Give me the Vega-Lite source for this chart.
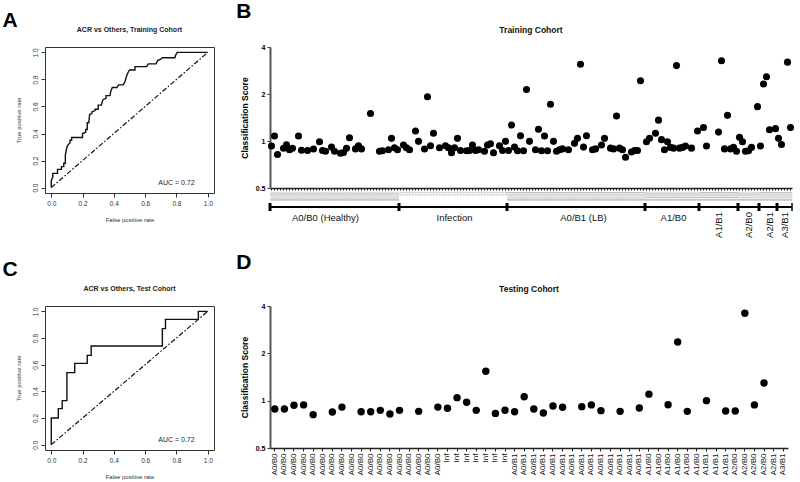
{
"$schema": "https://vega.github.io/schema/vega-lite/v6.json",
"background": "white",
"padding": {"left": 2, "top": 0, "right": 2, "bottom": 0},
"config": {"font": "Liberation Sans", "view": {"stroke": null}, "axis": {"grid": false}},
"datasets": {
"rocA": [{"k":0,"fpr":0,"tpr":0},{"k":1,"fpr":0,"tpr":0.05},{"k":2,"fpr":0.01,"tpr":0.08},{"k":3,"fpr":0.01,"tpr":0.105},{"k":4,"fpr":0.04,"tpr":0.105},{"k":5,"fpr":0.04,"tpr":0.135},{"k":6,"fpr":0.065,"tpr":0.135},{"k":7,"fpr":0.065,"tpr":0.155},{"k":8,"fpr":0.08,"tpr":0.155},{"k":9,"fpr":0.08,"tpr":0.18},{"k":10,"fpr":0.09,"tpr":0.18},{"k":11,"fpr":0.09,"tpr":0.24},{"k":12,"fpr":0.1,"tpr":0.3},{"k":13,"fpr":0.11,"tpr":0.32},{"k":14,"fpr":0.12,"tpr":0.33},{"k":15,"fpr":0.12,"tpr":0.35},{"k":16,"fpr":0.13,"tpr":0.35},{"k":17,"fpr":0.13,"tpr":0.37},{"k":18,"fpr":0.2,"tpr":0.37},{"k":19,"fpr":0.2,"tpr":0.4},{"k":20,"fpr":0.22,"tpr":0.41},{"k":21,"fpr":0.22,"tpr":0.43},{"k":22,"fpr":0.23,"tpr":0.43},{"k":23,"fpr":0.23,"tpr":0.48},{"k":24,"fpr":0.24,"tpr":0.48},{"k":25,"fpr":0.245,"tpr":0.54},{"k":26,"fpr":0.26,"tpr":0.55},{"k":27,"fpr":0.26,"tpr":0.56},{"k":28,"fpr":0.28,"tpr":0.57},{"k":29,"fpr":0.28,"tpr":0.58},{"k":30,"fpr":0.3,"tpr":0.58},{"k":31,"fpr":0.3,"tpr":0.61},{"k":32,"fpr":0.32,"tpr":0.61},{"k":33,"fpr":0.33,"tpr":0.65},{"k":34,"fpr":0.35,"tpr":0.66},{"k":35,"fpr":0.35,"tpr":0.68},{"k":36,"fpr":0.375,"tpr":0.68},{"k":37,"fpr":0.38,"tpr":0.71},{"k":38,"fpr":0.39,"tpr":0.74},{"k":39,"fpr":0.42,"tpr":0.74},{"k":40,"fpr":0.43,"tpr":0.76},{"k":41,"fpr":0.46,"tpr":0.76},{"k":42,"fpr":0.47,"tpr":0.78},{"k":43,"fpr":0.48,"tpr":0.82},{"k":44,"fpr":0.49,"tpr":0.85},{"k":45,"fpr":0.5,"tpr":0.87},{"k":46,"fpr":0.535,"tpr":0.87},{"k":47,"fpr":0.535,"tpr":0.895},{"k":48,"fpr":0.61,"tpr":0.895},{"k":49,"fpr":0.62,"tpr":0.915},{"k":50,"fpr":0.67,"tpr":0.915},{"k":51,"fpr":0.68,"tpr":0.94},{"k":52,"fpr":0.7,"tpr":0.95},{"k":53,"fpr":0.71,"tpr":0.96},{"k":54,"fpr":0.79,"tpr":0.96},{"k":55,"fpr":0.795,"tpr":0.98},{"k":56,"fpr":0.805,"tpr":1.0},{"k":57,"fpr":1,"tpr":1}],
"rocC": [{"k":0,"fpr":0,"tpr":0},{"k":1,"fpr":0,"tpr":0.2},{"k":2,"fpr":0.045,"tpr":0.2},{"k":3,"fpr":0.045,"tpr":0.27},{"k":4,"fpr":0.07,"tpr":0.27},{"k":5,"fpr":0.07,"tpr":0.33},{"k":6,"fpr":0.1,"tpr":0.33},{"k":7,"fpr":0.1,"tpr":0.54},{"k":8,"fpr":0.15,"tpr":0.54},{"k":9,"fpr":0.15,"tpr":0.61},{"k":10,"fpr":0.23,"tpr":0.61},{"k":11,"fpr":0.23,"tpr":0.67},{"k":12,"fpr":0.255,"tpr":0.67},{"k":13,"fpr":0.255,"tpr":0.74},{"k":14,"fpr":0.71,"tpr":0.74},{"k":15,"fpr":0.71,"tpr":0.87},{"k":16,"fpr":0.73,"tpr":0.87},{"k":17,"fpr":0.73,"tpr":0.94},{"k":18,"fpr":0.94,"tpr":0.94},{"k":19,"fpr":0.94,"tpr":1.0},{"k":20,"fpr":1,"tpr":1}],
"diag": [{"fpr":0,"tpr":0},{"fpr":1,"tpr":1}],
"trainB": [
{"c":"000 A0/B0","s":0.93},{"c":"001 A0/B0","s":1.077},{"c":"002 A0/B0","s":0.82},{"c":"003 A0/B0"},{"c":"004 A0/B0","s":0.898},{"c":"005 A0/B0","s":0.945},{"c":"006 A0/B0","s":0.88},{"c":"007 A0/B0","s":0.898},{"c":"008 A0/B0"},{"c":"009 A0/B0","s":1.077},
{"c":"010 A0/B0","s":0.873},{"c":"011 A0/B0"},{"c":"012 A0/B0","s":0.87},{"c":"013 A0/B0"},{"c":"014 A0/B0","s":0.888},{"c":"015 A0/B0"},{"c":"016 A0/B0","s":0.99},{"c":"017 A0/B0","s":0.87},{"c":"018 A0/B0","s":0.86},{"c":"019 A0/B0"},
{"c":"020 A0/B0","s":0.914},{"c":"021 A0/B0","s":0.86},{"c":"022 A0/B0"},{"c":"023 A0/B0","s":0.835},{"c":"024 A0/B0","s":0.845},{"c":"025 A0/B0","s":0.898},{"c":"026 A0/B0","s":1.05},{"c":"027 A0/B0"},{"c":"028 A0/B0","s":0.89},{"c":"029 A0/B0","s":0.933},
{"c":"030 A0/B0","s":0.89},{"c":"031 A0/B0"},{"c":"032 A0/B0"},{"c":"033 A0/B0","s":1.5},{"c":"034 A0/B0"},{"c":"035 A0/B0"},{"c":"036 A0/B0","s":0.86},{"c":"037 A0/B0","s":0.865},{"c":"038 A0/B0"},{"c":"039 A0/B0","s":0.88},
{"c":"040 A0/B0","s":1.04},{"c":"041 A0/B0","s":0.905},{"c":"042 A0/B0","s":0.88},{"c":"043 Inf"},{"c":"044 Inf","s":0.943},{"c":"045 Inf","s":0.905},{"c":"046 Inf","s":0.88},{"c":"047 Inf"},{"c":"048 Inf","s":1.159},{"c":"049 Inf","s":0.995},
{"c":"050 Inf"},{"c":"051 Inf","s":0.888},{"c":"052 Inf","s":1.92},{"c":"053 Inf","s":0.933},{"c":"054 Inf","s":1.12},{"c":"055 Inf"},{"c":"056 Inf","s":0.905},{"c":"057 Inf"},{"c":"058 Inf","s":0.933},{"c":"059 Inf","s":0.905},
{"c":"060 Inf","s":0.84},{"c":"061 Inf","s":0.905},{"c":"062 Inf","s":1.04},{"c":"063 Inf","s":0.87},{"c":"064 Inf"},{"c":"065 Inf","s":0.865},{"c":"066 Inf","s":0.87},{"c":"067 Inf","s":0.943},{"c":"068 Inf","s":0.87},{"c":"069 Inf","s":0.88},
{"c":"070 Inf"},{"c":"071 Inf","s":0.86},{"c":"072 Inf","s":0.943},{"c":"073 Inf","s":0.96},{"c":"074 Inf","s":0.84},{"c":"075 Inf"},{"c":"076 Inf","s":0.933},{"c":"077 Inf","s":0.87},{"c":"078 Inf","s":0.995},{"c":"079 A0/B1","s":0.87},
{"c":"080 A0/B1","s":1.266},{"c":"081 A0/B1","s":0.914},{"c":"082 A0/B1","s":0.865},{"c":"083 A0/B1","s":1.08},{"c":"084 A0/B1","s":0.865},{"c":"085 A0/B1","s":2.14},{"c":"086 A0/B1","s":0.995},{"c":"087 A0/B1"},{"c":"088 A0/B1","s":0.88},{"c":"089 A0/B1","s":1.188},
{"c":"090 A0/B1","s":0.865},{"c":"091 A0/B1","s":1.076},{"c":"092 A0/B1","s":0.865},{"c":"093 A0/B1","s":1.72},{"c":"094 A0/B1","s":0.995},{"c":"095 A0/B1","s":0.86},{"c":"096 A0/B1","s":0.88},{"c":"097 A0/B1","s":0.89},{"c":"098 A0/B1"},{"c":"099 A0/B1","s":0.88},
{"c":"100 A0/B1"},{"c":"101 A0/B1","s":0.966},{"c":"102 A0/B1","s":1.04},{"c":"103 A0/B1","s":3.1},{"c":"104 A0/B1","s":0.914},{"c":"105 A0/B1","s":1.08},{"c":"106 A0/B1"},{"c":"107 A0/B1","s":0.88},{"c":"108 A0/B1","s":0.89},{"c":"109 A0/B1"},
{"c":"110 A0/B1","s":0.943},{"c":"111 A0/B1","s":1.04},{"c":"112 A0/B1"},{"c":"113 A0/B1","s":0.9},{"c":"114 A0/B1","s":0.89},{"c":"115 A0/B1","s":1.445},{"c":"116 A0/B1","s":0.9},{"c":"117 A0/B1","s":0.88},{"c":"118 A0/B1","s":0.786},{"c":"119 A0/B1"},
{"c":"120 A0/B1","s":0.85},{"c":"121 A0/B1","s":0.87},{"c":"122 A0/B1","s":0.87},{"c":"123 A0/B1","s":2.43},{"c":"124 A0/B1"},{"c":"125 A1/B0","s":0.99},{"c":"126 A1/B0","s":1.04},{"c":"127 A1/B0"},{"c":"128 A1/B0","s":1.12},{"c":"129 A1/B0","s":1.36},
{"c":"130 A1/B0","s":1.02},{"c":"131 A1/B0","s":0.88},{"c":"132 A1/B0","s":0.99},{"c":"133 A1/B0","s":0.91},{"c":"134 A1/B0","s":0.9},{"c":"135 A1/B0","s":3.04},{"c":"136 A1/B0","s":0.9},{"c":"137 A1/B0","s":0.91},{"c":"138 A1/B0","s":0.93},{"c":"139 A1/B0"},
{"c":"140 A1/B0","s":0.9},{"c":"141 A1/B0"},{"c":"142 A1/B0","s":1.16},{"c":"143 A1/B1"},{"c":"144 A1/B1","s":1.22},{"c":"145 A1/B1","s":0.93},{"c":"146 A1/B1"},{"c":"147 A1/B1"},{"c":"148 A1/B1"},{"c":"149 A1/B1","s":1.14},
{"c":"150 A1/B1","s":3.27},{"c":"151 A1/B1","s":0.89},{"c":"152 A1/B1","s":1.46},{"c":"153 A1/B1","s":0.89},{"c":"154 A1/B1","s":0.91},{"c":"155 A1/B1","s":0.86},{"c":"156 A2/B0","s":1.055},{"c":"157 A2/B0","s":0.99},{"c":"158 A2/B0","s":0.86},{"c":"159 A2/B0","s":0.865},
{"c":"160 A2/B0","s":0.91},{"c":"161 A2/B0"},{"c":"162 A2/B0","s":1.66},{"c":"163 A2/B1","s":0.93},{"c":"164 A2/B1","s":2.32},{"c":"165 A2/B1","s":2.58},{"c":"166 A2/B1","s":1.18},{"c":"167 A2/B1"},{"c":"168 A2/B1","s":1.2},{"c":"169 A3/B1","s":1.04},
{"c":"170 A3/B1","s":0.95},{"c":"171 A3/B1"},{"c":"172 A3/B1","s":3.2},{"c":"173 A3/B1","s":1.22}
],
"groupsB": [
{"g":"A0/B0 (Healthy)","first":"000 A0/B0","mid":"018 A0/B0","rot":0},
{"g":"Infection","first":"043 Inf","mid":"061 Inf","rot":0},
{"g":"A0/B1 (LB)","first":"079 A0/B1","mid":"104 A0/B1","rot":0},
{"g":"A1/B0","first":"125 A1/B0","mid":"134 A1/B0","rot":0},
{"g":"A1/B1","first":"143 A1/B1","mid":"149 A1/B1","rot":1},
{"g":"A2/B0","first":"156 A2/B0","mid":"159 A2/B0","rot":1},
{"g":"A2/B1","first":"163 A2/B1","mid":"166 A2/B1","rot":1},
{"g":"A3/B1","first":"169 A3/B1","mid":"171 A3/B1","rot":1}
],
"testD": [
{"c":"00 A0/B0","s":0.885},{"c":"01 A0/B0","s":0.885},{"c":"02 A0/B0","s":0.934},{"c":"03 A0/B0","s":0.94},{"c":"04 A0/B0","s":0.815},{"c":"05 A0/B0"},{"c":"06 A0/B0","s":0.847},{"c":"07 A0/B0","s":0.91},{"c":"08 A0/B0"},{"c":"09 A0/B0","s":0.85},
{"c":"10 A0/B0","s":0.85},{"c":"11 A0/B0","s":0.868},{"c":"12 A0/B0","s":0.823},{"c":"13 A0/B0","s":0.868},{"c":"14 A0/B0"},{"c":"15 A0/B0","s":0.855},{"c":"16 A0/B0"},{"c":"17 A0/B0","s":0.91},{"c":"18 Inf","s":0.894},{"c":"19 Inf","s":1.045},
{"c":"20 Inf","s":0.976},{"c":"21 Inf","s":0.868},{"c":"22 Inf","s":1.54},{"c":"23 Inf","s":0.83},{"c":"24 Inf","s":0.87},{"c":"25 A0/B1","s":0.85},{"c":"26 A0/B1","s":1.06},{"c":"27 A0/B1","s":0.885},{"c":"28 A0/B1","s":0.835},{"c":"29 A0/B1","s":0.925},
{"c":"30 A0/B1","s":0.907},{"c":"31 A0/B1"},{"c":"32 A0/B1","s":0.916},{"c":"33 A0/B1","s":0.94},{"c":"34 A0/B1","s":0.864},{"c":"35 A0/B1"},{"c":"36 A0/B1","s":0.855},{"c":"37 A0/B1"},{"c":"38 A0/B1","s":0.898},{"c":"39 A1/B0","s":1.1},
{"c":"40 A1/B0"},{"c":"41 A1/B0","s":0.943},{"c":"42 A1/B0","s":2.36},{"c":"43 A1/B0","s":0.855},{"c":"44 A1/B0"},{"c":"45 A1/B1","s":1.0},{"c":"46 A1/B1"},{"c":"47 A1/B1","s":0.86},{"c":"48 A2/B0","s":0.86},{"c":"49 A2/B0","s":3.6},
{"c":"50 A2/B0","s":0.94},{"c":"51 A2/B0","s":1.295},{"c":"52 A2/B1"},{"c":"53 A3/B1"}
]
},
"spacing": 13,
"vconcat": [
{"spacing": 21, "hconcat": [
 {"title": {"text": "A", "fontSize": 21, "fontWeight": "bold", "anchor": "start", "offset": -5, "dx": -12, "color": "#000"},
  "vconcat": [{
   "width": 169, "height": 146,
   "view": {"stroke": "#333", "strokeWidth": 1},
   "title": {"text": "ACR vs Others, Training Cohort", "fontSize": 7, "fontWeight": "bold", "offset": 14, "color": "#222"},
   "encoding": {
      "x": {"field": "fpr", "type": "quantitative", "scale": {"domain": [-0.04, 1.04], "nice": false, "zero": false},
            "axis": {"title": "False positive rate", "values": [0, 0.2, 0.4, 0.6, 0.8, 1], "labelOverlap": false, "format": ".1f", "domain": false, "tickSize": 4, "tickColor": "#333", "labelFontSize": 6.5, "labelColor": "#333", "labelPadding": 3, "titleFontSize": 6, "titleFontWeight": "normal", "titleColor": "#333", "titlePadding": 10}},
      "y": {"field": "tpr", "type": "quantitative", "scale": {"domain": [-0.04, 1.04], "nice": false, "zero": false},
            "axis": {"title": "True positive rate", "values": [0, 0.2, 0.4, 0.6, 0.8, 1], "labelOverlap": false, "format": ".1f", "domain": false, "tickSize": 4, "tickColor": "#333", "labelAngle": 270, "labelAlign": "center", "labelBaseline": "bottom", "labelFontSize": 6.5, "labelColor": "#333", "labelPadding": 3, "titleFontSize": 6, "titleFontWeight": "normal", "titleColor": "#333", "titlePadding": 11}}},
   "layer": [
    {"data": {"name": "rocA"}, "mark": {"type": "line", "color": "#111", "strokeWidth": 1.4},
     "encoding": {"order": {"field": "k"}}},
    {"data": {"name": "diag"}, "mark": {"type": "line", "color": "#111", "strokeWidth": 1.2, "strokeDash": [5, 2, 1.5, 2]},
     "encoding": {}},
    {"data": {"values": [{"fpr": 0.8, "tpr": 0.035, "t": "AUC  = 0.72"}]}, "mark": {"type": "text", "fontSize": 7, "color": "#222"},
     "encoding": {"text": {"field": "t"}}}
   ]
  }]
 },
 {"title": {"text": "B", "fontSize": 21, "fontWeight": "bold", "anchor": "start", "offset": 4, "dx": -4, "color": "#000"},
  "spacing": 0,
  "resolve": {"scale": {"x": "shared"}},
  "vconcat": [
   {"width": 522, "height": 141,
    "title": {"text": "Training Cohort", "fontSize": 8.5, "fontWeight": "bold", "offset": 9, "color": "#111"},
    "data": {"name": "trainB"},
    "layer": [
     {"mark": {"type": "point", "opacity": 0},
      "encoding": {"x": {"field": "c", "type": "nominal", "scale": {"type": "band", "paddingInner": 0, "paddingOuter": 0},
        "axis": {"title": null, "labelExpr": "slice(datum.label, 4)", "labelAngle": 270, "labelAlign": "right", "labelBaseline": "middle", "labelFontSize": 3.5, "labelColor": "#999", "labelPadding": 1, "tickSize": 2, "tickColor": "#222", "domainColor": "#222", "domainWidth": 1.5}}}},
     {"transform": [{"filter": "isValid(datum.s)"}], "mark": {"type": "circle", "size": 50, "color": "#000", "opacity": 1},
      "encoding": {"x": {"field": "c", "type": "nominal"},
       "y": {"field": "s", "type": "quantitative", "scale": {"type": "log", "domain": [0.5, 4], "nice": false},
        "axis": {"title": "Classification Score", "values": [0.5, 1, 2, 4], "format": "~g", "labelFontSize": 7, "labelFontWeight": "bold", "titleFontSize": 8.5, "titleFontWeight": "bold", "domainColor": "#555", "domainWidth": 2, "tickSize": 3, "tickColor": "#333", "titlePadding": 6}}}}
    ]},
   {"width": 522, "height": 20,
    "data": {"name": "groupsB"},
    "layer": [
     {"mark": {"type": "rule", "color": "#000", "strokeWidth": 1.5},
      "encoding": {"y": {"datum": 17, "type": "quantitative", "scale": {"domain": [0, 20], "nice": false}, "axis": null}}},
     {"mark": {"type": "rule", "color": "#000", "strokeWidth": 3},
      "encoding": {"x": {"field": "first", "type": "nominal", "bandPosition": 0, "scale": {"type": "band", "paddingInner": 0, "paddingOuter": 0}, "axis": null},
       "y": {"datum": 21, "type": "quantitative"}, "y2": {"datum": 13}}},
     {"data": {"values": [{"first": "173 A3/B1"}]}, "mark": {"type": "rule", "color": "#000", "strokeWidth": 1.5},
      "encoding": {"x": {"field": "first", "type": "nominal", "bandPosition": 1}, "y": {"datum": 21, "type": "quantitative"}, "y2": {"datum": 13}}},
     {"transform": [{"filter": "datum.rot == 0"}], "mark": {"type": "text", "fontSize": 9.5, "baseline": "middle", "color": "#111"},
      "encoding": {"x": {"field": "mid", "type": "nominal"}, "y": {"datum": 6, "type": "quantitative"}, "text": {"field": "g"}}},
     {"transform": [{"filter": "datum.rot == 1"}], "mark": {"type": "text", "fontSize": 9.5, "angle": 270, "align": "right", "baseline": "middle", "color": "#111"},
      "encoding": {"x": {"field": "mid", "type": "nominal"}, "y": {"datum": 12, "type": "quantitative"}, "text": {"field": "g"}}}
    ]}
  ]
 }
]},
{"spacing": 21, "hconcat": [
 {"title": {"text": "C", "fontSize": 21, "fontWeight": "bold", "anchor": "start", "offset": 5, "dx": -12, "color": "#000"},
  "vconcat": [{
   "width": 169, "height": 144,
   "view": {"stroke": "#333", "strokeWidth": 1},
   "title": {"text": "ACR vs Others, Test Cohort", "fontSize": 7, "fontWeight": "bold", "offset": 14, "color": "#222"},
   "encoding": {
      "x": {"field": "fpr", "type": "quantitative", "scale": {"domain": [-0.04, 1.04], "nice": false, "zero": false},
            "axis": {"title": "False positive rate", "values": [0, 0.2, 0.4, 0.6, 0.8, 1], "labelOverlap": false, "format": ".1f", "domain": false, "tickSize": 4, "tickColor": "#333", "labelFontSize": 6.5, "labelColor": "#333", "labelPadding": 3, "titleFontSize": 6, "titleFontWeight": "normal", "titleColor": "#333", "titlePadding": 10}},
      "y": {"field": "tpr", "type": "quantitative", "scale": {"domain": [-0.04, 1.04], "nice": false, "zero": false},
            "axis": {"title": "True positive rate", "values": [0, 0.2, 0.4, 0.6, 0.8, 1], "labelOverlap": false, "format": ".1f", "domain": false, "tickSize": 4, "tickColor": "#333", "labelAngle": 270, "labelAlign": "center", "labelBaseline": "bottom", "labelFontSize": 6.5, "labelColor": "#333", "labelPadding": 3, "titleFontSize": 6, "titleFontWeight": "normal", "titleColor": "#333", "titlePadding": 11}}},
   "layer": [
    {"data": {"name": "rocC"}, "mark": {"type": "line", "color": "#111", "strokeWidth": 1.4},
     "encoding": {"order": {"field": "k"}}},
    {"data": {"name": "diag"}, "mark": {"type": "line", "color": "#111", "strokeWidth": 1.2, "strokeDash": [5, 2, 1.5, 2]},
     "encoding": {}},
    {"data": {"values": [{"fpr": 0.8, "tpr": 0.035, "t": "AUC  = 0.72"}]}, "mark": {"type": "text", "fontSize": 7, "color": "#222"},
     "encoding": {"text": {"field": "t"}}}
   ]
  }]
 },
 {"title": {"text": "D", "fontSize": 21, "fontWeight": "bold", "anchor": "start", "offset": 12, "dx": -4, "color": "#000"},
  "vconcat": [
   {"width": 518, "height": 142,
    "title": {"text": "Testing Cohort", "fontSize": 8.5, "fontWeight": "bold", "offset": 9, "color": "#111"},
    "data": {"name": "testD"},
    "layer": [
     {"mark": {"type": "point", "opacity": 0},
      "encoding": {"x": {"field": "c", "type": "nominal", "scale": {"type": "band", "paddingInner": 0, "paddingOuter": 0},
        "axis": {"title": null, "labelExpr": "slice(datum.label, 3)", "labelAngle": 270, "labelAlign": "right", "labelBaseline": "middle", "labelFontSize": 8, "labelColor": "#111", "labelPadding": 2, "tickSize": 3, "tickColor": "#222", "domainColor": "#222", "domainWidth": 1.5}}}},
     {"transform": [{"filter": "isValid(datum.s)"}], "mark": {"type": "circle", "size": 55, "color": "#000", "opacity": 1},
      "encoding": {"x": {"field": "c", "type": "nominal"},
       "y": {"field": "s", "type": "quantitative", "scale": {"type": "log", "domain": [0.5, 4], "nice": false},
        "axis": {"title": "Classification Score", "values": [0.5, 1, 2, 4], "format": "~g", "labelFontSize": 7, "labelFontWeight": "bold", "titleFontSize": 8.5, "titleFontWeight": "bold", "domainColor": "#555", "domainWidth": 2, "tickSize": 3, "tickColor": "#333", "titlePadding": 6}}}}
    ]}
  ]
 }
]}
]
}
